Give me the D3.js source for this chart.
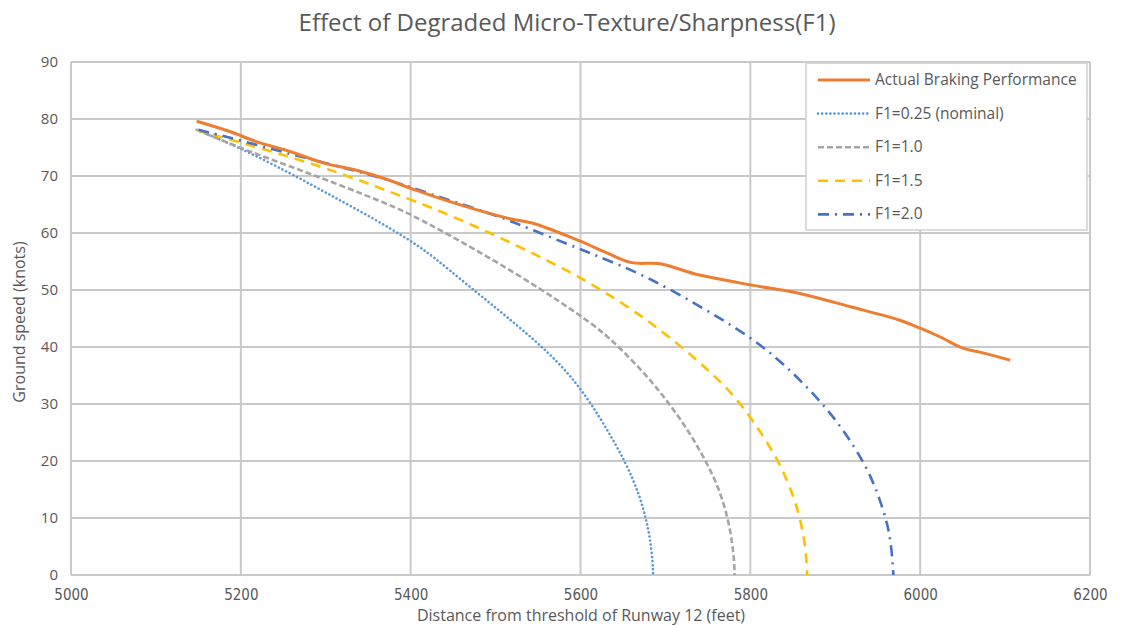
<!DOCTYPE html>
<html>
<head>
<meta charset="utf-8">
<script src="https://cdn.jsdelivr.net/npm/d3@7"></script>
<style>
  body { margin: 0; background: #fff; }
  text { fill: #595959; }
</style>
</head>
<body>
<div id="container"></div>
<script>
// values: [distance ft, ground speed kt]
const actual = [
  [5148, 79.6], [5187, 77.8], [5219, 76.0], [5258, 74.3], [5297, 72.3], [5336, 71.0],
  [5368, 69.6], [5401, 67.8], [5446, 65.5], [5517, 62.5], [5544, 61.7], [5599, 58.6],
  [5631, 56.5], [5660, 54.8], [5694, 54.6], [5733, 52.9], [5800, 50.9], [5858, 49.4],
  [5917, 47.1], [5976, 44.7], [6000, 43.3], [6023, 41.8], [6050, 39.8], [6070, 39.1],
  [6106, 37.7]
];
const f025 = [
  [5148, 78.1], [5200, 74.9], [5258, 70.5], [5305, 66.7], [5352, 62.9], [5401, 58.6],
  [5427, 55.8], [5466, 51.0], [5505, 46.3], [5544, 41.5], [5576, 37.0], [5601, 32.6],
  [5627, 26.7], [5654, 19.6], [5670, 13.8], [5677, 9.9], [5682, 6.4], [5685, 2.4],
  [5685.5, 0]
];
const f10 = [
  [5148, 78.1], [5201, 74.8], [5258, 71.7], [5317, 68.4], [5376, 64.9], [5401, 63.2],
  [5446, 59.6], [5497, 55.3], [5552, 50.3], [5599, 45.6], [5623, 43.0], [5646, 39.9],
  [5678, 35.0], [5705, 30.0], [5729, 24.9], [5749, 19.6], [5764, 14.9], [5774, 9.7],
  [5779, 5.4], [5781, 2.4], [5781.5, 0]
];
const f15 = [
  [5148, 78.1], [5175, 76.9], [5223, 74.9], [5270, 72.8], [5317, 70.5], [5360, 68.1],
  [5401, 65.8], [5446, 63.2], [5529, 57.6], [5599, 52.3], [5631, 49.4], [5674, 45.3],
  [5729, 38.9], [5780, 31.9], [5811, 25.4], [5835, 19.6], [5852, 13.5], [5861, 8.5],
  [5865.5, 4.2], [5867, 0]
];
const f20 = [
  [5150, 78.1], [5191, 76.6], [5262, 73.7], [5297, 72.4], [5368, 69.6], [5401, 68.0],
  [5438, 66.1], [5505, 62.9], [5544, 60.5], [5599, 57.2], [5631, 55.3], [5682, 52.1],
  [5745, 46.8], [5800, 41.8], [5839, 37.1], [5878, 31.3], [5909, 25.7], [5937, 19.0],
  [5950, 14.3], [5961, 9.4], [5966, 5.3], [5968.5, 0]
];

const xTicks = [5000, 5200, 5400, 5600, 5800, 6000, 6200];
const yTicks = [0, 10, 20, 30, 40, 50, 60, 70, 80, 90];

const seriesNames = ["Actual Braking Performance", "F1=0.25 (nominal)", "F1=1.0", "F1=1.5", "F1=2.0"];
const seriesData = [actual, f025, f10, f15, f20];

const colors = ["#ED7D31", "#5B9BD5", "#A5A5A5", "#FFC000", "#4472C4"];
const dashes = ["none", "0.1,4", "6,3", "10,7", "11,6,2,6"];

const width = 1123;
const height = 625;
const plotLeft = 71, plotRight = 1090, plotTop = 62, plotBottom = 575;

const x = d3.scaleLinear().domain([5000, 6200]).range([plotLeft, plotRight]);
const y = d3.scaleLinear().domain([0, 90]).range([plotBottom, plotTop]);

const svg = d3.select("#container")
  .append("svg")
  .attr("width", width)
  .attr("height", height);

// gridlines
svg.append("g")
  .selectAll("line")
  .data(yTicks)
  .enter()
  .append("line")
  .attr("x1", plotLeft).attr("x2", plotRight)
  .attr("y1", d => y(d)).attr("y2", d => y(d))
  .attr("stroke", "#c9c9c9")
  .attr("stroke-width", 2);

svg.append("g")
  .selectAll("line")
  .data(xTicks)
  .enter()
  .append("line")
  .attr("y1", plotTop).attr("y2", plotBottom)
  .attr("x1", d => x(d)).attr("x2", d => x(d))
  .attr("stroke", "#c9c9c9")
  .attr("stroke-width", 2);

// axes (labels only)
const xAxis = d3.axisBottom(x).tickValues(xTicks).tickSize(0).tickPadding(14).tickFormat(d3.format("d"));
const yAxis = d3.axisLeft(y).tickValues(yTicks).tickSize(0).tickPadding(13);

const gx = svg.append("g")
  .attr("transform", `translate(0,${plotBottom})`)
  .call(xAxis);
gx.select(".domain").remove();
gx.selectAll("text")
  .style("font-family", "'Liberation Sans Narrow', 'DejaVu Sans Condensed', sans-serif")
  .style("font-size", "15px")
  .attr("fill", "#595959");

const gy = svg.append("g")
  .attr("transform", `translate(${plotLeft},0)`)
  .call(yAxis);
gy.select(".domain").remove();
gy.selectAll("text")
  .style("font-family", "'Open Sans', sans-serif")
  .style("font-size", "15px")
  .attr("fill", "#595959");

// lines: the model curves get a smoothing spline, they are drawn smooth in the original
const actualLine = d3.line()
  .x(d => x(d[0]))
  .y(d => y(d[1]))
  .curve(d3.curveCatmullRom.alpha(0.5));

const modelLine = d3.line()
  .x(d => x(d[0]))
  .y(d => y(d[1]))
  .curve(d3.curveBasis);

// draw models first, actual on top
const order = [1, 2, 3, 4, 0];
order.forEach(i => {
  svg.append("path")
    .datum(seriesData[i])
    .attr("d", i === 0 ? actualLine : modelLine)
    .attr("fill", "none")
    .attr("stroke", colors[i])
    .attr("stroke-width", i === 0 ? 3 : 2.6)
    .attr("stroke-dasharray", dashes[i])
    .attr("stroke-linecap", i === 1 ? "round" : "butt");
});

// legend
const legend = svg.append("g");
legend.append("rect")
  .attr("x", 806).attr("y", 63)
  .attr("width", 281).attr("height", 167)
  .attr("fill", "#fff")
  .attr("stroke", "#d0d0d0")
  .attr("stroke-width", 1.5);

seriesNames.forEach((name, i) => {
  const ly = 80 + i * 33.6;
  legend.append("line")
    .attr("x1", 818).attr("x2", 870)
    .attr("y1", ly).attr("y2", ly)
    .attr("stroke", colors[i])
    .attr("stroke-width", i === 0 ? 3 : 2.6)
    .attr("stroke-dasharray", dashes[i])
    .attr("stroke-linecap", i === 1 ? "round" : "butt");
  legend.append("text")
    .attr("x", 875).attr("y", ly + 5)
    .style("font-family", "'Open Sans', sans-serif")
    .style("font-size", "15.5px")
    .text(name);
});

// titles
svg.append("text")
  .attr("x", 567).attr("y", 31)
  .attr("text-anchor", "middle")
  .style("font-family", "'Open Sans', sans-serif")
  .style("font-size", "24px")
  .text("Effect of Degraded Micro-Texture/Sharpness(F1)");

svg.append("text")
  .attr("x", 581).attr("y", 621)
  .attr("text-anchor", "middle")
  .style("font-family", "'Open Sans', sans-serif")
  .style("font-size", "16px")
  .text("Distance from threshold of Runway 12 (feet)");

svg.append("text")
  .attr("transform", "translate(25,322) rotate(-90)")
  .attr("text-anchor", "middle")
  .style("font-family", "'Open Sans', sans-serif")
  .style("font-size", "16px")
  .text("Ground speed (knots)");
</script>
</body>
</html>
